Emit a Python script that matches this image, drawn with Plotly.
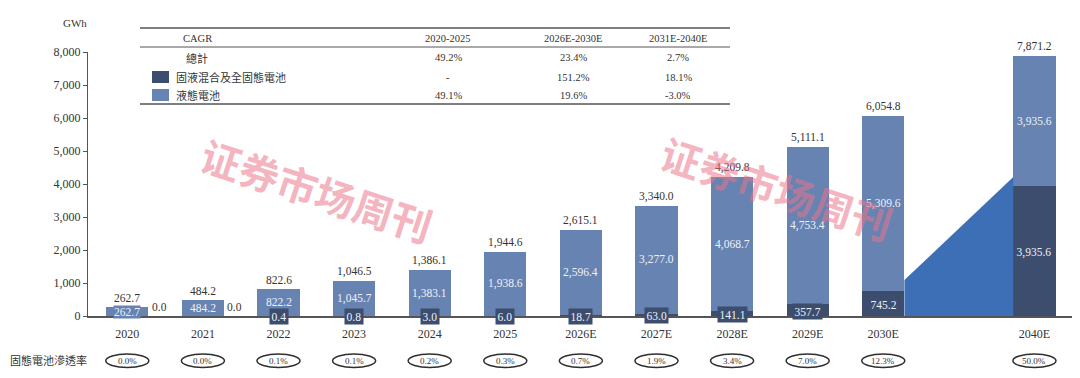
import plotly.graph_objects as go

# ---------------- data ----------------
categories = ["2020", "2021", "2022", "2023", "2024", "2025",
              "2026E", "2027E", "2028E", "2029E", "2030E", "2040E"]
positions = [0, 1, 2, 3, 4, 5, 6, 7, 8, 9, 10, 12]
liquid = [262.7, 484.2, 822.2, 1045.7, 1383.1, 1938.6,
          2596.4, 3277.0, 4068.7, 4753.4, 5309.6, 3935.6]
solid = [0.0, 0.0, 0.4, 0.8, 3.0, 6.0,
         18.7, 63.0, 141.1, 357.7, 745.2, 3935.6]
totals = [262.7, 484.2, 822.6, 1046.5, 1386.1, 1944.6,
          2615.1, 3340.0, 4209.8, 5111.1, 6054.8, 7871.2]
penetration = ["0.0%", "0.0%", "0.1%", "0.1%", "0.2%", "0.3%",
               "0.7%", "1.9%", "3.4%", "7.0%", "12.3%", "50.0%"]

cagr_periods = ["2020-2025", "2026E-2030E", "2031E-2040E"]
cagr_total = ["49.2%", "23.4%", "2.7%"]
cagr_solid = ["-", "151.2%", "18.1%"]
cagr_liquid = ["49.1%", "19.6%", "-3.0%"]
growth_band = [1090, 4210]   # blue wedge heights from 2030E to 2040E

# ---------------- style ----------------
LIGHT = "#6783b1"
DARK = "#3c4d6e"
WEDGE = "#3d6fb7"
TXT = "#333333"
SERIF = "Liberation Serif, Times New Roman, serif"
CJK = "Noto Sans CJK TC, Noto Sans CJK SC, sans-serif"
BW = 0.56

OFF = 8                      # page body margin of the html page
W, H = 1080 - OFF, 378 - OFF
ML, MR, MT, MB = 88 - OFF, 7, 52 - OFF, 62
PW, PH = W - ML - MR, H - MT - MB


def px(x):
    return (x - OFF - ML) / PW


def py(y):
    return (H - MB - (y - OFF)) / PH


def note(x, y, text, font, xanchor="center", **kw):
    return dict(x=x, y=y, xref="paper", yref="paper", text=text, showarrow=False,
                xanchor=xanchor, yanchor="middle", font=font, **kw)


fig = go.Figure()

# growth wedge between the 2030E and 2040E bars
i30 = positions[categories.index("2030E")]
i40 = positions[categories.index("2040E")]
fig.add_trace(go.Scatter(
    x=[i30 + BW / 2, i30 + BW / 2, i40 - BW / 2, i40 - BW / 2],
    y=[0, growth_band[0], growth_band[1], 0],
    fill="toself", fillcolor=WEDGE, mode="lines", line=dict(width=0),
    hoverinfo="skip", showlegend=False))

fig.add_trace(go.Bar(x=positions, y=solid, width=BW, marker_color=DARK,
                     marker_line_width=0, name="固液混合及全固態電池", showlegend=False))
fig.add_trace(go.Bar(x=positions, y=liquid, width=BW, marker_color=LIGHT,
                     marker_line_width=0, name="液態電池", showlegend=False))

num_font = dict(family=SERIF, size=11.5, color=TXT)
in_font = dict(family=SERIF, size=11.5, color="#eef2f8")

ann = []
shapes = []
for p, l, s, t, pen in zip(positions, liquid, solid, totals, penetration):
    ann.append(dict(x=p, y=t, text=f"{t:,.1f}", xanchor="center", yanchor="bottom",
                    yshift=1, showarrow=False, font=num_font))
    ann.append(dict(x=p, y=s + l / 2, text=f"{l:,.1f}", xanchor="center",
                    yanchor="middle", showarrow=False, bgcolor=LIGHT, borderpad=0,
                    font=in_font))
    if s == 0:
        ann.append(dict(x=p + 0.42, y=0, yshift=9, text=f"{s:,.1f}", xanchor="center",
                        yanchor="middle", showarrow=False, font=num_font))
    else:
        ann.append(dict(x=p, y=s / 2, text=f"{s:,.1f}", xanchor="center",
                        yanchor="middle", showarrow=False, bgcolor=DARK, borderpad=1.5,
                        yshift=-1, font=in_font))
    # penetration ellipse row
    shapes.append(dict(type="circle", xref="x", yref="paper",
                       x0=p - 0.285, x1=p + 0.285, y0=py(367.5), y1=py(354),
                       line=dict(color="#2f2f2f", width=1.5)))
    ann.append(dict(x=p, y=py(361), xref="x", yref="paper", text=pen,
                    xanchor="center", yanchor="middle", showarrow=False,
                    font=dict(family=SERIF, size=9, color=TXT)))

ann.append(note(px(8), py(360), "固態電池滲透率",
                dict(family=CJK, size=11, color=TXT), xanchor="left"))
ann.append(note(px(75), py(23), "GWh", dict(family=SERIF, size=11, color=TXT)))

# ---------------- CAGR table ----------------
TL, TR = 140, 730
for yy, wdt in [(28, 1.6), (47, 1.0), (104, 1.6)]:
    shapes.append(dict(type="line", xref="paper", yref="paper",
                       x0=px(TL), x1=px(TR), y0=py(yy), y1=py(yy),
                       line=dict(color="#555555", width=wdt)))
col_x = [448, 573, 678]
row_y = [38, 58, 77, 95]
tfont = dict(family=SERIF, size=10.5, color=TXT)
cfont = dict(family=CJK, size=11, color=TXT)
ann.append(note(px(197), py(row_y[0]), "CAGR", tfont))
ann.append(note(px(197), py(row_y[1]), "總計", cfont))
ann.append(note(px(174), py(row_y[2]), "固液混合及全固態電池", cfont, xanchor="left"))
ann.append(note(px(174), py(row_y[3]), "液態電池", cfont, xanchor="left"))
for yc, col in [(row_y[2], DARK), (row_y[3], LIGHT)]:
    shapes.append(dict(type="rect", xref="paper", yref="paper",
                       x0=px(152), x1=px(169), y0=py(yc + 6), y1=py(yc - 6),
                       fillcolor=col, line=dict(width=0)))
for cx, hdr, a, b, c in zip(col_x, cagr_periods, cagr_total, cagr_solid, cagr_liquid):
    for yy, txt in zip(row_y, [hdr, a, b, c]):
        ann.append(note(px(cx), py(yy), txt, tfont))

# ---------------- watermark ----------------
for wx, wy in [(317, 190), (777, 188)]:
    ann.append(note(px(wx), py(wy), "证券市场周刊",
                    dict(family="Noto Sans CJK SC", size=40, weight="bold",
                         color="rgba(235,115,138,0.55)"), textangle=18))

fig.update_layout(
    width=W, height=H, barmode="stack", bargap=0,
    margin=dict(l=ML, r=MR, t=MT, b=MB),
    paper_bgcolor="white", plot_bgcolor="white",
    showlegend=False, annotations=ann, shapes=shapes,
    xaxis=dict(range=[-0.52, 12.51], tickvals=positions, ticktext=categories,
               showline=True, linecolor="#555555", linewidth=1.5, ticks="",
               showgrid=False, zeroline=False, ticklabelstandoff=6,
               tickfont=dict(family=SERIF, size=12, color=TXT)),
    yaxis=dict(range=[0, 8000], dtick=1000, tickformat=",", showline=True,
               linecolor="#555555", linewidth=1.3, ticks="outside", ticklen=4,
               tickcolor="#555555", showgrid=False, zeroline=False,
               tickfont=dict(family=SERIF, size=12, color=TXT)),
)

fig.write_html("out.html")
